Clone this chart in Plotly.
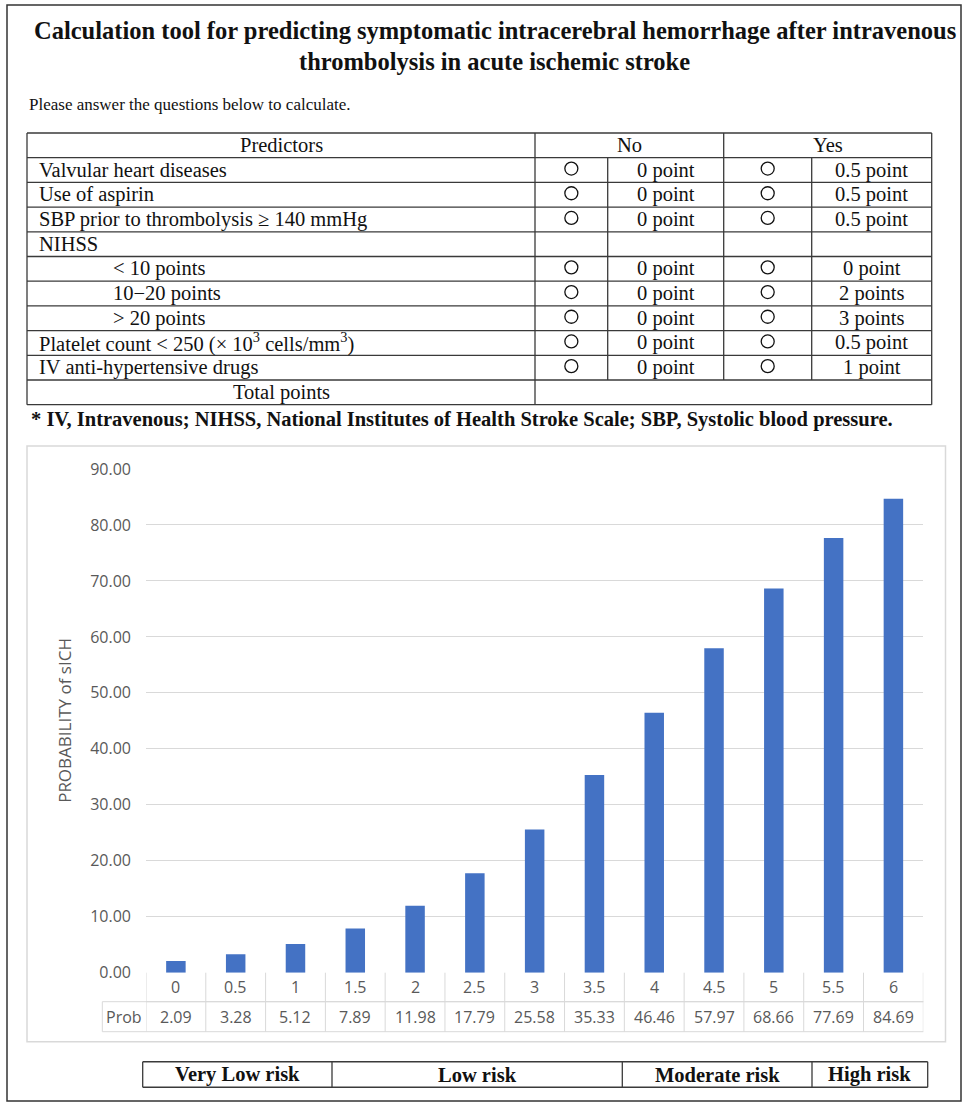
import plotly.graph_objects as go

W, H = 964, 1106

# ---- chart data ----
scores = ["0", "0.5", "1", "1.5", "2", "2.5", "3", "3.5", "4", "4.5", "5", "5.5", "6"]
prob = [2.09, 3.28, 5.12, 7.89, 11.98, 17.79, 25.58, 35.33, 46.46, 57.97, 68.66, 77.69, 84.69]
y_ticks = [0, 10, 20, 30, 40, 50, 60, 70, 80, 90]

# ---- scoring table content ----
predictors = [
    "Valvular heart diseases",
    "Use of aspirin",
    "SBP prior to thrombolysis ≥ 140 mmHg",
    "NIHSS",
    "&lt; 10 points",
    "10−20 points",
    "&gt; 20 points",
    "Platelet count &lt; 250 (× 10<sup>3</sup> cells/mm<sup>3</sup>)",
    "IV anti-hypertensive drugs",
]
indented = [False, False, False, False, True, True, True, False, False]
no_points = ["0 point", "0 point", "0 point", "", "0 point", "0 point", "0 point", "0 point", "0 point"]
yes_points = ["0.5 point", "0.5 point", "0.5 point", "", "0 point", "2 points", "3 points", "0.5 point", "1 point"]
risk_labels = ["Very Low risk", "Low risk", "Moderate risk", "High risk"]

title_lines = [
    "Calculation tool for predicting symptomatic intracerebral hemorrhage after intravenous",
    "thrombolysis in acute ischemic stroke",
]
intro_text = "Please answer the questions below to calculate."
footnote = "* IV, Intravenous; NIHSS, National Institutes of Health Stroke Scale; SBP, Systolic blood pressure."


def px(x):
    return x / W


def py(y):
    return 1 - y / H


SERIF = "Liberation Serif"
SANS = "Open Sans"
INK = "#111111"
TABLE_LINE = "#3a3a3a"
GRID = "#d9d9d9"
AXIS_TXT = "#595959"
BODY = 20.5

shapes = []
annotations = []


def hline(x0, x1, y, color=TABLE_LINE, width=1.3):
    shapes.append(dict(type="line", xref="paper", yref="paper", x0=px(x0), x1=px(x1),
                       y0=py(y), y1=py(y), line=dict(color=color, width=width)))


def vline(x, y0, y1, color=TABLE_LINE, width=1.3):
    shapes.append(dict(type="line", xref="paper", yref="paper", x0=px(x), x1=px(x),
                       y0=py(y0), y1=py(y1), line=dict(color=color, width=width)))


def text(x, y, s, size=BODY, color=INK, xanchor="center", family=SERIF, bold=False):
    annotations.append(dict(xref="paper", yref="paper", x=px(x), y=py(y),
                            text=f"<b>{s}</b>" if bold else s, showarrow=False,
                            xanchor=xanchor, yanchor="middle",
                            font=dict(family=family, size=size, color=color)))


# ---- page frame ----
shapes.append(dict(type="rect", xref="paper", yref="paper", x0=px(7), x1=px(961),
                   y0=py(1101), y1=py(5), line=dict(color="#333333", width=1.5)))

# ---- heading ----
text(495, 31, title_lines[0], size=24.5, bold=True)
text(495, 62, title_lines[1], size=24.5, bold=True)
text(27, 104, intro_text, size=17, xanchor="left")

# ---- scoring table ----
T_LEFT, T_RIGHT = 27, 931.7
C_PRED, C_NO_SPLIT, C_YES, C_YES_SPLIT = 535, 607.7, 723.7, 811.7
T_TOP, ROW_H = 133, 24.7
n_rows = len(predictors) + 2
edges = [T_TOP + ROW_H * k for k in range(n_rows + 1)]

for y in edges:
    hline(T_LEFT, T_RIGHT, y)
vline(T_LEFT, edges[0], edges[-1])
vline(T_RIGHT, edges[0], edges[-1])
vline(C_PRED, edges[0], edges[-1])
vline(C_YES, edges[0], edges[-2])
vline(C_NO_SPLIT, edges[1], edges[-2])
vline(C_YES_SPLIT, edges[1], edges[-2])


def row_mid(k):
    return (edges[k] + edges[k + 1]) / 2


text((T_LEFT + C_PRED) / 2, row_mid(0), "Predictors")
text((C_PRED + C_YES) / 2, row_mid(0), "No")
text((C_YES + T_RIGHT) / 2, row_mid(0), "Yes")

for i, name in enumerate(predictors):
    k = i + 1
    text(111 if indented[i] else 37, row_mid(k), name, xanchor="left")
    if no_points[i]:
        for cx in ((C_PRED + C_NO_SPLIT) / 2, (C_YES + C_YES_SPLIT) / 2):
            r = 6.5
            shapes.append(dict(type="circle", xref="paper", yref="paper",
                               x0=px(cx - r), x1=px(cx + r),
                               y0=py(row_mid(k) + r - 1.5), y1=py(row_mid(k) - r - 1.5),
                               line=dict(color=INK, width=1.3)))
        text((C_NO_SPLIT + C_YES) / 2, row_mid(k), no_points[i])
        text((C_YES_SPLIT + T_RIGHT) / 2, row_mid(k), yes_points[i])

text((T_LEFT + C_PRED) / 2, row_mid(n_rows - 1), "Total points")
text(29, 419, footnote, size=BODY, xanchor="left", bold=True)

# ---- chart panel ----
shapes.append(dict(type="rect", xref="paper", yref="paper", x0=px(27), x1=px(945.5),
                   y0=py(1041.7), y1=py(446), line=dict(color=GRID, width=1.5)))

PLOT_L, PLOT_R, PLOT_T, PLOT_B = 146, 923.3, 469, 972.7
ROW1_B, ROW2_B, PROB_L = 1001.7, 1031.7, 102.3
CHART_FONT = 16

# data table beneath the bars
hline(PLOT_L, PLOT_R, ROW1_B, color=GRID, width=1)
hline(PROB_L, PLOT_R, ROW1_B, color=GRID, width=1)
hline(PROB_L, PLOT_R, ROW2_B, color=GRID, width=1)
vline(PROB_L, ROW1_B, ROW2_B, color=GRID, width=1)
for i in range(len(scores) + 1):
    shapes.append(dict(type="line", xref="x", yref="paper", x0=i - 0.5, x1=i - 0.5,
                       y0=py(PLOT_B), y1=py(ROW2_B), line=dict(color=GRID, width=1)))
for i, (s, p) in enumerate(zip(scores, prob)):
    annotations.append(dict(xref="x", yref="paper", x=i, y=py((PLOT_B + ROW1_B) / 2),
                            text=s, showarrow=False, yanchor="middle",
                            font=dict(family=SANS, size=CHART_FONT, color=AXIS_TXT)))
    annotations.append(dict(xref="x", yref="paper", x=i, y=py((ROW1_B + ROW2_B) / 2),
                            text=f"{p:.2f}", showarrow=False, yanchor="middle",
                            font=dict(family=SANS, size=CHART_FONT, color=AXIS_TXT)))
text((PROB_L + PLOT_L) / 2, (ROW1_B + ROW2_B) / 2, "Prob", size=CHART_FONT,
     color=AXIS_TXT, family=SANS)

# y-axis title
annotations.append(dict(xref="paper", yref="paper", x=px(65), y=py((PLOT_T + PLOT_B) / 2),
                        text="PROBABILITY of sICH", showarrow=False, textangle=-90,
                        xanchor="center", yanchor="middle",
                        font=dict(family=SANS, size=17, color=AXIS_TXT)))

# ---- risk band ----
risk_edges = [142.7, 332, 622.3, 812, 927.7]
R_TOP, R_BOT = 1061.7, 1087.3
hline(risk_edges[0], risk_edges[-1], R_TOP, width=1.6)
hline(risk_edges[0], risk_edges[-1], R_BOT, width=1.6)
for x in risk_edges:
    vline(x, R_TOP, R_BOT, width=1.3)
for i, lab in enumerate(risk_labels):
    text((risk_edges[i] + risk_edges[i + 1]) / 2, (R_TOP + R_BOT) / 2, lab, bold=True)

fig = go.Figure(go.Bar(x=scores, y=prob, marker=dict(color="#4472C4", line=dict(width=0)),
                       hoverinfo="x+y"))

fig.update_layout(
    width=W, height=H,
    margin=dict(l=0, r=0, t=0, b=0, pad=0, autoexpand=False),
    paper_bgcolor="white", plot_bgcolor="white",
    showlegend=False,
    bargap=0.674,
    shapes=shapes,
    annotations=annotations,
    xaxis=dict(domain=[px(PLOT_L), px(PLOT_R)], type="category", range=[-0.5, len(scores) - 0.5],
               showticklabels=False, showgrid=False, zeroline=False, showline=False, ticks="",
               automargin=False),
    yaxis=dict(domain=[py(PLOT_B), py(PLOT_T)], range=[0, 90], tickvals=y_ticks,
               tickformat=".2f", showgrid=True, gridcolor=GRID, gridwidth=1,
               zeroline=False, showline=False, ticks="", ticklabelstandoff=14,
               automargin=False,
               tickfont=dict(family=SANS, size=CHART_FONT, color=AXIS_TXT)),
)

fig.write_html("out.html")
